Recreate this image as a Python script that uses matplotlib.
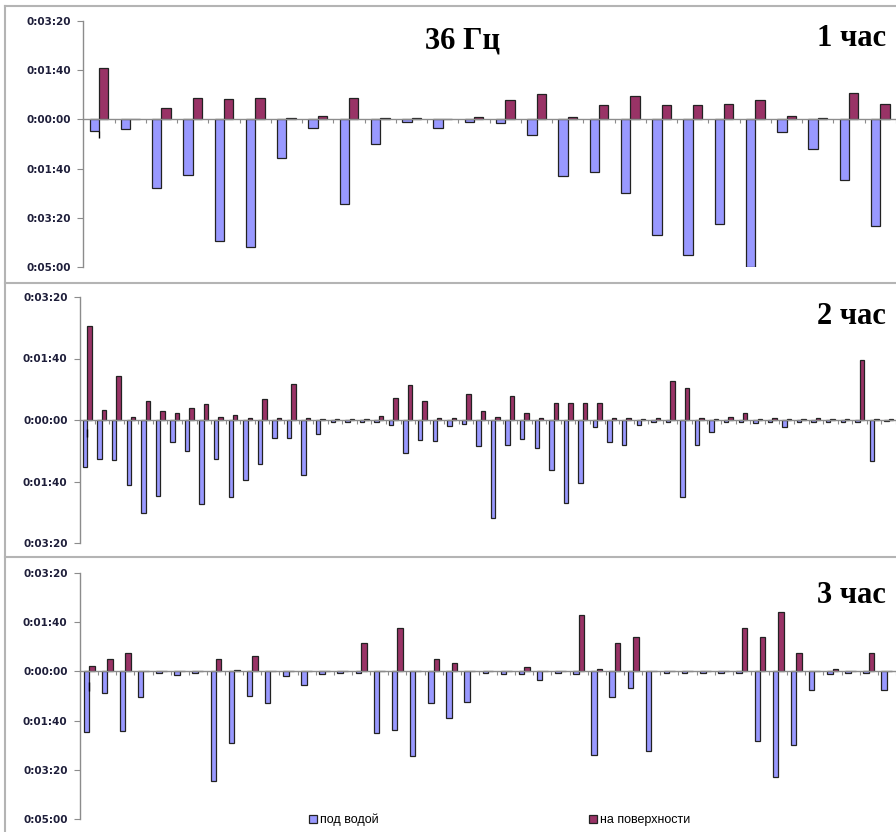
import numpy as np
import matplotlib
matplotlib.use("Agg")
import matplotlib.pyplot as plt
from matplotlib.ticker import FuncFormatter
from matplotlib.lines import Line2D

# values in seconds: under water (negative) / on surface (positive)
p1_under = [-23, -20, -140, -114, -248, -259, -79, -17, -172, -51, -6, -17, -5,
            -7, -32, -116, -106, -149, -234, -276, -213, -300, -25, -60, -123, -216]
p1_surface = [104, 1, 24, 44, 41, 43, 3, 6, 43, 3, 2, 1, 5,
              40, 52, 5, 29, 47, 29, 29, 32, 40, 7, 3, 54, 32]

p2_under = [-76, -64, -65, -105, -152, -123, -36, -50, -136, -63, -125, -97, -72, -29,
            -29, -89, -22, -4, -4, -4, -4, -8, -53, -33, -34, -10, -6, -42,
            -159, -40, -31, -45, -81, -135, -102, -11, -35, -41, -8, -4, -4, -125,
            -40, -20, -3, -4, -5, -3, -11, -4, -3, -4, -3, -4, -66, -2]
p2_surface = [153, 17, 72, 5, 31, 15, 11, 19, 26, 5, 8, 3, 34, 4,
              59, 3, 2, 2, 2, 2, 6, 35, 57, 31, 3, 3, 42, 14,
              5, 39, 12, 3, 27, 28, 28, 28, 3, 3, 2, 3, 63, 52,
              3, 2, 5, 11, 2, 4, 2, 2, 3, 2, 2, 98, 2, 1]

p3_under = [-123, -43, -122, -53, -4, -7, -4, -222, -146, -50, -64, -10, -28, -5, -3,
            -4, -125, -119, -171, -64, -94, -62, -3, -6, -6, -17, -3, -5, -170, -52,
            -33, -162, -4, -3, -3, -4, -3, -142, -214, -150, -37, -5, -3, -3, -37]
p3_surface = [11, 25, 37, 1, 1, 1, 1, 25, 2, 32, 1, 1, 1, 1, 1,
              58, 1, 88, 1, 25, 17, 1, 1, 1, 8, 1, 1, 114, 5, 57,
              70, 1, 1, 1, 1, 1, 88, 70, 121, 37, 1, 5, 1, 37, 1]

# small stray error marks on the first category (from, to)
p1_err = (-23, -37)
p2_err = (-15, -27)
p3_err = (-22, -39)

titles = ["1 час", "2 час", "3 час"]
legend_labels = ["под водой", "на поверхности"]

BLUE = "#9999FF"
RED = "#993366"
EDGE = "#222222"
GRAY = "#8c8c8c"


def fmt(v, pos):
    s = int(round(abs(v)))
    return "0:%02d:%02d" % (s // 60, s % 60)


def draw(ax, under, surface, ylo, xmax, err):
    x = np.arange(len(under))
    b1 = ax.bar(x - 0.15, under, 0.3, color=BLUE, edgecolor=EDGE, lw=0.9)
    b2 = ax.bar(x + 0.15, surface, 0.3, color=RED, edgecolor=EDGE, lw=0.9)
    ax.vlines(0, err[0], err[1], color="black", lw=1)
    ax.set_xlim(-0.5, xmax)
    ax.set_ylim(ylo, 200)
    ax.set_yticks(np.arange(ylo, 201, 100))
    ax.yaxis.set_major_formatter(FuncFormatter(fmt))
    ax.set_xticks(x + 0.5)
    ax.set_xticklabels([])
    ax.spines["bottom"].set_position(("data", 0))
    ax.spines["top"].set_visible(False)
    ax.spines["right"].set_visible(False)
    for s in ("bottom", "left"):
        ax.spines[s].set_color(GRAY)
        ax.spines[s].set_linewidth(1)
    ax.tick_params(axis="x", direction="out", length=3, color=GRAY, width=0.8)
    ax.tick_params(axis="y", direction="out", length=4, color=GRAY, width=0.8,
                   pad=5, labelsize=7.5, labelcolor="#1e1e3a")
    for t in ax.get_yticklabels():
        t.set_fontweight("bold")
    ax.set_facecolor("none")
    return b1, b2


fig = plt.figure(figsize=(8.96, 8.32), dpi=100)
W, H = 896, 832

ax1 = fig.add_axes([83.3 / W, (H - 267) / H, 1 - 83.3 / W, 246 / H])
ax2 = fig.add_axes([80 / W, (H - 543) / H, 1 - 80 / W, 246 / H])
ax3 = fig.add_axes([80 / W, (H - 819) / H, 1 - 80 / W, 246 / H])

draw(ax1, p1_under, p1_surface, -300, 25.27, p1_err)
draw(ax2, p2_under, p2_surface, -200, 55.1, p2_err)
b1, b2 = draw(ax3, p3_under, p3_surface, -300, 44.0, p3_err)

# panel frames
for xs, ys in [([5, 896], [6, 6]), ([5, 5], [6, 832]),
               ([5, 896], [283, 283]), ([5, 896], [557, 557])]:
    fig.add_artist(Line2D([v / W for v in xs], [1 - v / H for v in ys],
                          transform=fig.transFigure, color="#b4b4b4", lw=1.5))

serif = dict(fontsize=22, fontweight="bold", family="Liberation Serif", va="baseline")
fig.text(462 / W, 1 - 48 / H, "36 Гц", ha="center", **serif)
for t, yb in zip(titles, [46, 324, 603]):
    fig.text(886 / W, 1 - yb / H, t, ha="right", **serif)

lp = dict(frameon=False, handlelength=0.6, handleheight=0.6, handletextpad=0.25,
          borderpad=0, borderaxespad=0, loc="center left",
          prop={"family": "Liberation Sans", "size": 9})
fig.legend([b1], [legend_labels[0]], bbox_to_anchor=(309 / W, 1 - 820 / H), **lp)
fig.legend([b2], [legend_labels[1]], bbox_to_anchor=(589 / W, 1 - 820 / H), **lp)

fig.savefig("out.png", dpi=100)
